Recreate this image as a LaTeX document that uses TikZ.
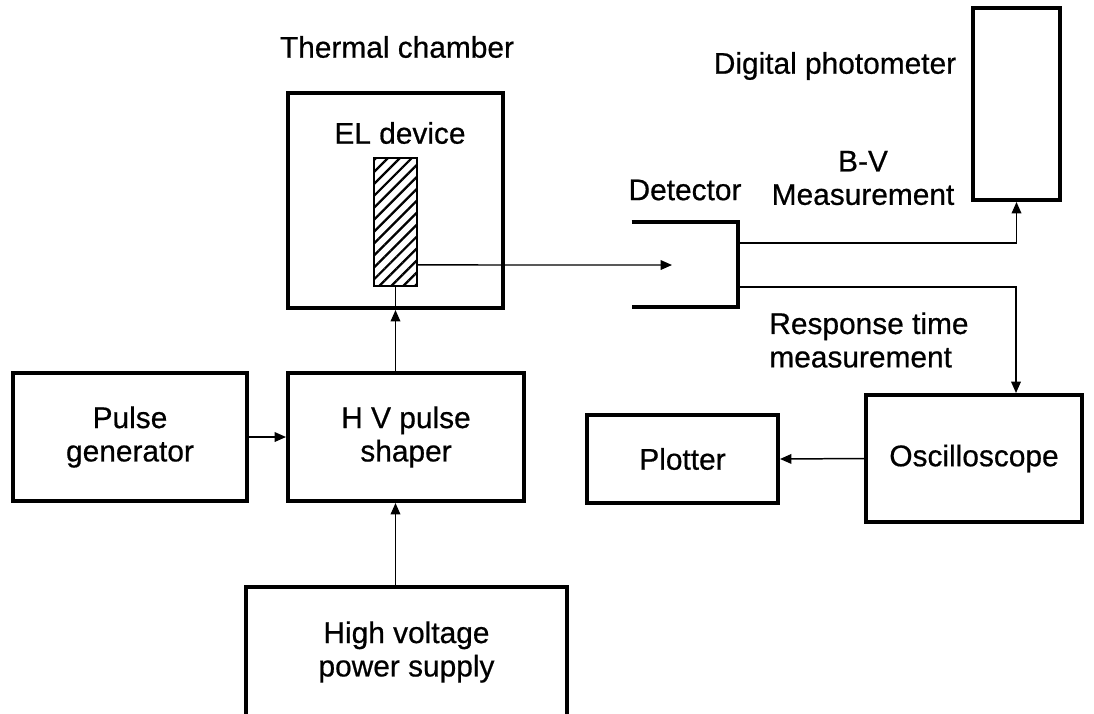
\documentclass[tikz,border=0pt]{standalone}
\usepackage{fontspec}
\setmainfont{Liberation Sans}
\newfontfamily\diagramfont[FakeBold=0.6]{Liberation Sans}
\usetikzlibrary{arrows.meta,patterns.meta}
\pgfdeclarelayer{edgelayer}
\pgfdeclarelayer{nodelayer}
\pgfsetlayers{edgelayer,nodelayer,main}
\tikzstyle{signal}=[draw=black, line width=0.85pt, -{Triangle[length=6.5pt,width=5.5pt]}]
\tikzstyle{wire}=[draw=black, line width=0.85pt]
\tikzstyle{wall}=[draw=black, line width=2.3pt]
\tikzstyle{block}=[rectangle, draw=black, line width=2.3pt, align=center, inner sep=0pt]
\tikzstyle{film}=[rectangle, draw=black, line width=0.8pt, pattern={Lines[angle=45,distance=4.8pt,line width=1.3pt]}]
\tikzstyle{textlabel}=[align=center, inner sep=0pt]

\begin{document}
\begin{tikzpicture}[x=0.02cm, y=-0.02cm, font=\diagramfont\fontsize{17}{19}\selectfont]
				\useasboundingbox (0,0) rectangle (1094,713);
				\begin{pgfonlayer}{nodelayer}
					\node [style=block, minimum width=4.3cm, minimum height=4.3cm] (chamber) at (395.5, 200.5) {};
					\node [style=film, minimum width=0.86cm, minimum height=2.56cm] (device) at (395.5, 222) {};
					\node [style=block, minimum width=4.68cm, minimum height=2.56cm] (pulsegen) at (130, 437) {Pulse\\generator};
					\node [style=block, minimum width=4.72cm, minimum height=2.56cm] (shaper) at (406, 437) {H V pulse\\shaper};
					\node [style=block, minimum width=6.42cm, minimum height=2.6cm] (supply) at (406.5, 652) {High voltage\\power supply};
					\node [style=block, minimum width=1.74cm, minimum height=3.84cm] (photometer) at (1016.5, 104) {};
					\node [style=block, minimum width=4.32cm, minimum height=2.54cm] (scope) at (974, 458.5) {Oscilloscope};
					\node [style=block, minimum width=3.82cm, minimum height=1.76cm] (plotter) at (682.5, 459) {Plotter};
					\node [minimum width=2.12cm, minimum height=1.7cm, inner sep=0pt] (detector) at (685, 264.5) {};
					\coordinate (beam) at (672, 265);
					% labels
					\node [style=textlabel] (chambername) at (397, 47) {Thermal chamber};
					\node [style=textlabel] (devicename) at (400, 133) {EL device};
					\node [style=textlabel] (detectorname) at (685, 190) {Detector};
					\node [style=textlabel] (photoname) at (835, 66) {Digital photometer};
					\node [style=textlabel] (bvname) at (863, 178) {B-V\\Measurement};
					\node [style=textlabel, anchor=west, align=left] (responsename) at (769, 340) {Response time\\measurement};
				\end{pgfonlayer}
				\begin{pgfonlayer}{edgelayer}
					\draw [style=wall] (detector.north west) -- (detector.north east) -- (detector.south east) -- (detector.south west);
					\draw [style=signal] ([yshift=-0.86cm]device.east) -- (beam);
					\draw [style=wire] (device.south) -- (chamber.south);
					\draw [style=signal] (shaper.north -| chamber.south) -- (chamber.south);
					\draw [style=signal] (supply.north -| chamber.south) -- (shaper.south -| chamber.south);
					\draw [style=signal] (pulsegen.east) -- (shaper.west);
					\draw [style=signal] ([yshift=0.43cm]detector.east) -| (photometer.south);
					\draw [style=signal] ([yshift=-0.45cm]detector.east) -| ([xshift=0.84cm]scope.north);
					\draw [style=signal] (scope.west) -- (plotter.east);
				\end{pgfonlayer}
			\end{tikzpicture}
\end{document}
